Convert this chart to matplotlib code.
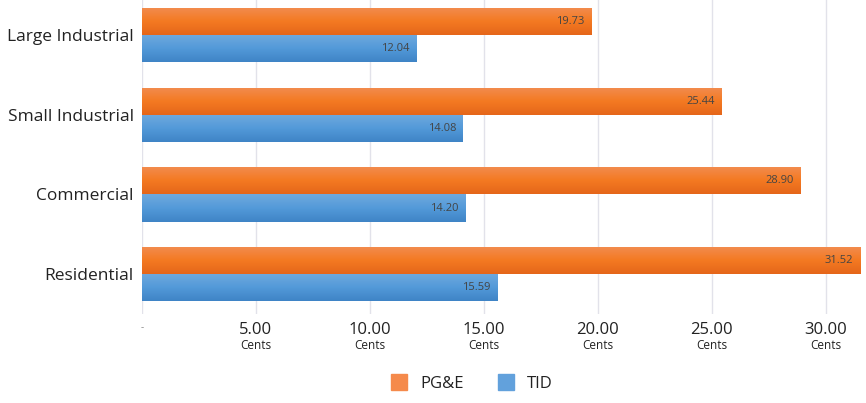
import matplotlib.pyplot as plt
import numpy as np
from matplotlib.colors import LinearSegmentedColormap
from matplotlib.lines import Line2D

categories = ["Residential", "Commercial", "Small Industrial", "Large Industrial"]
pge = [31.52, 28.90, 25.44, 19.73]
tid = [15.59, 14.20, 14.08, 12.04]
ticks = [0, 5, 10, 15, 20, 25, 30]
tick_labels = ["-", "5.00", "10.00", "15.00", "20.00", "25.00", "30.00"]

plt.rcParams["font.family"] = ["Open Sans", "DejaVu Sans"]

fig = plt.figure(figsize=(8.66, 4.03), dpi=100)
ax = fig.add_axes([142 / 866, (403 - 314) / 403, (860 - 142) / 866, 314 / 403])

y = np.arange(len(categories))
h = 0.34
orange_cm = LinearSegmentedColormap.from_list("o", ["#F28C50", "#F47A22", "#E5661A"])
blue_cm = LinearSegmentedColormap.from_list("b", ["#6FA9DE", "#539AD9", "#3F84C6"])

bars_o = ax.barh(y + h / 2, pge, height=h, color="#F47A22", zorder=2)
bars_b = ax.barh(y - h / 2, tid, height=h, color="#529AD8", zorder=2)

grad = np.linspace(0, 1, 64).reshape(-1, 1)
for bars, cm in ((bars_o, orange_cm), (bars_b, blue_cm)):
    for b in bars:
        x0, y0 = b.get_x(), b.get_y()
        w, hh = b.get_width(), b.get_height()
        im = ax.imshow(grad, cmap=cm, aspect="auto", origin="upper",
                       extent=(x0, x0 + w, y0, y0 + hh), zorder=2.5)
        im.set_clip_path(b)
        ax.text(min(x0 + w, 31.5) - 0.3, y0 + hh / 2, f"{w:.2f}", ha="right",
                va="center", fontsize=8, color="#444444", zorder=3)

ax.set_xlim(0, 31.5)
ax.set_ylim(-0.5, 3.44)
ax.set_yticks(y)
ax.set_yticklabels(categories, fontsize=12.5, color="#222222")
ax.set_xticks(ticks)
ax.set_xticklabels(tick_labels, fontsize=12, color="#222222")
ax.tick_params(axis="both", length=0)
ax.tick_params(axis="x", pad=6)
ax.tick_params(axis="y", pad=6)
for lbl in ax.get_xticklabels()[:1]:
    lbl.set_color("#888888")
    lbl.set_fontsize(7)
for t in ticks[1:]:
    ax.text(t, -0.5 - 25 / 79.7, "Cents", ha="center", va="top",
            fontsize=8.5, color="#222222", clip_on=False)
ax.grid(axis="x", color="#E2E2EA", linewidth=1, zorder=0)
ax.set_axisbelow(True)
for s in ax.spines.values():
    s.set_visible(False)

handles = [Line2D([], [], marker="s", linestyle="", markersize=12, color="#F58A4B"),
           Line2D([], [], marker="s", linestyle="", markersize=12, color="#62A1DC")]
fig.legend(handles, ["PG&E", "TID"], loc="center", bbox_to_anchor=(0.54, 1 - 384 / 403),
           ncol=2, frameon=False, fontsize=12, handletextpad=0.3, columnspacing=1.5,
           labelcolor="#222222")

fig.savefig("out.png", dpi=100)
